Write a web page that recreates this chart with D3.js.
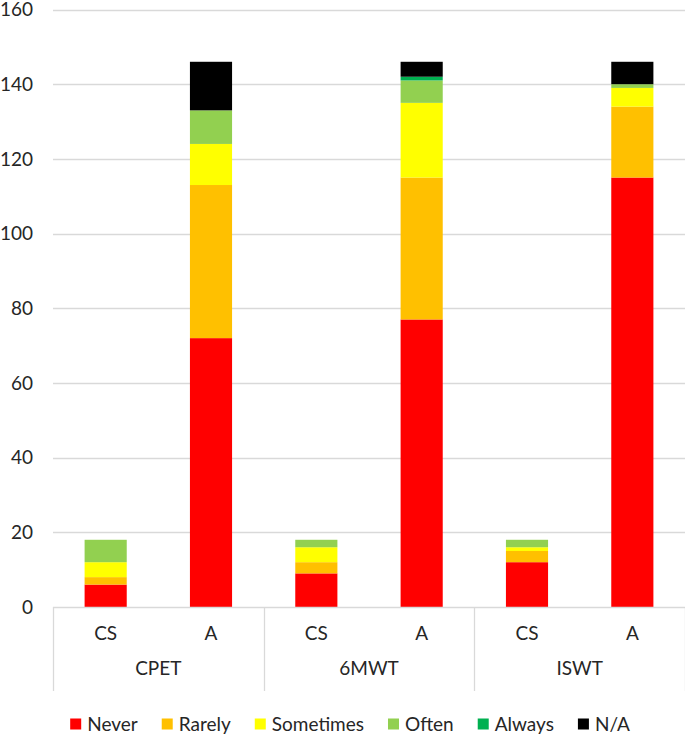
<!DOCTYPE html>
<html>
<head>
<meta charset="utf-8">
<script src="https://cdn.jsdelivr.net/npm/d3@7/dist/d3.min.js"></script>
<style>
  html, body { margin: 0; padding: 0; background: #fff; }
  svg { display: block; }
  text { font-family: Lato, "Open Sans", sans-serif; fill: #262626; }
</style>
</head>
<body>
<svg id="chart" width="685" height="736"></svg>
<script>
// ---- data ----
const groups = ["CPET", "6MWT", "ISWT"];
const subCats = ["CS", "A"];
const seriesNames = ["Never", "Rarely", "Sometimes", "Often", "Always", "N/A"];
const seriesColors = ["#FF0000", "#FFC000", "#FFFF00", "#92D050", "#00B050", "#000000"];
// order of bars: CPET-CS, CPET-A, 6MWT-CS, 6MWT-A, ISWT-CS, ISWT-A
const never     = [6, 72, 9, 77, 12, 115];
const rarely    = [2, 41, 3, 38, 3, 19];
const sometimes = [4, 11, 4, 20, 1, 5];
const often     = [6, 9, 2, 6, 2, 1];
const always    = [0, 0, 0, 1, 0, 0];
const na        = [0, 13, 0, 4, 0, 6];
const yTicks = [0, 20, 40, 60, 80, 100, 120, 140, 160];

// ---- build table ----
const seriesValues = [never, rarely, sometimes, often, always, na];
const rows = [];
groups.forEach((g, gi) => subCats.forEach((c, ci) => {
  const idx = gi * subCats.length + ci;
  const row = { group: g, cat: c };
  seriesNames.forEach((s, si) => row[s] = seriesValues[si][idx]);
  rows.push(row);
}));

const svg = d3.select("#chart");
const mLeft = 53, mRight = 685, mTop = 9.5, mBottom = 607;

const y = d3.scaleLinear().domain([0, 160]).range([mBottom, mTop]);
const x0 = d3.scaleBand().domain(groups).range([mLeft, mRight]).padding(0);
const x1 = d3.scaleBand().domain(subCats).range([0, x0.bandwidth()])
  .paddingInner(0.6).paddingOuter(0.3);

// gridlines
svg.append("g").selectAll("line").data(yTicks.filter(d => d > 0)).join("line")
  .attr("x1", mLeft).attr("x2", mRight)
  .attr("y1", d => Math.round(y(d)) + 0.5).attr("y2", d => Math.round(y(d)) + 0.5)
  .attr("stroke", "#d9d9d9").attr("stroke-width", 1.3);

// y tick labels
svg.append("g").selectAll("text").data(yTicks).join("text")
  .attr("x", 33).attr("y", d => y(d)).attr("dy", "0.35em")
  .attr("text-anchor", "end").style("font-size", "19px")
  .text(d => d);

// stacked bars
const stack = d3.stack().keys(seriesNames);
const stacked = stack(rows);
svg.append("g").selectAll("g").data(stacked).join("g")
  .attr("fill", (d, i) => seriesColors[i])
  .selectAll("rect").data(d => d).join("rect")
  .attr("x", d => x0(d.data.group) + x1(d.data.cat))
  .attr("width", x1.bandwidth())
  .attr("y", d => y(d[1]))
  .attr("height", d => y(d[0]) - y(d[1]));

// x axis line
svg.append("line").attr("x1", mLeft).attr("x2", mRight)
  .attr("y1", mBottom + 0.5).attr("y2", mBottom + 0.5)
  .attr("stroke", "#d9d9d9").attr("stroke-width", 1.3);

// group dividers
const dividers = groups.map(g => x0(g)).concat([mRight - 0.5]);
svg.append("g").selectAll("line").data(dividers).join("line")
  .attr("x1", d => Math.round(d) + 0.5).attr("x2", d => Math.round(d) + 0.5)
  .attr("y1", mBottom).attr("y2", 691)
  .attr("stroke", "#d9d9d9").attr("stroke-width", 1.3);

// sub category labels
svg.append("g").selectAll("text").data(rows).join("text")
  .attr("x", d => x0(d.group) + x1(d.cat) + x1.bandwidth() / 2)
  .attr("y", 633).attr("dy", "0.35em").attr("text-anchor", "middle")
  .style("font-size", "19px").text(d => d.cat);

// group labels
svg.append("g").selectAll("text").data(groups).join("text")
  .attr("x", d => x0(d) + x0.bandwidth() / 2)
  .attr("y", 668).attr("dy", "0.35em").attr("text-anchor", "middle")
  .style("font-size", "19px").text(d => d);

// legend
const legend = svg.append("g");
let cx = 0;
const items = legend.selectAll("g").data(seriesNames).join("g");
items.append("rect").attr("width", 11).attr("height", 11)
  .attr("y", -5.5).attr("fill", (d, i) => seriesColors[i]);
items.append("text").attr("x", 17).attr("dy", "0.35em")
  .style("font-size", "19px").text(d => d);
items.each(function () {
  const g = d3.select(this);
  const w = g.select("text").node().getComputedTextLength();
  g.attr("transform", `translate(${cx},0)`);
  cx += 17 + w + 24;
});
const totalW = cx - 24;
legend.attr("transform", `translate(${350 - totalW / 2},724)`);
</script>
</body>
</html>
